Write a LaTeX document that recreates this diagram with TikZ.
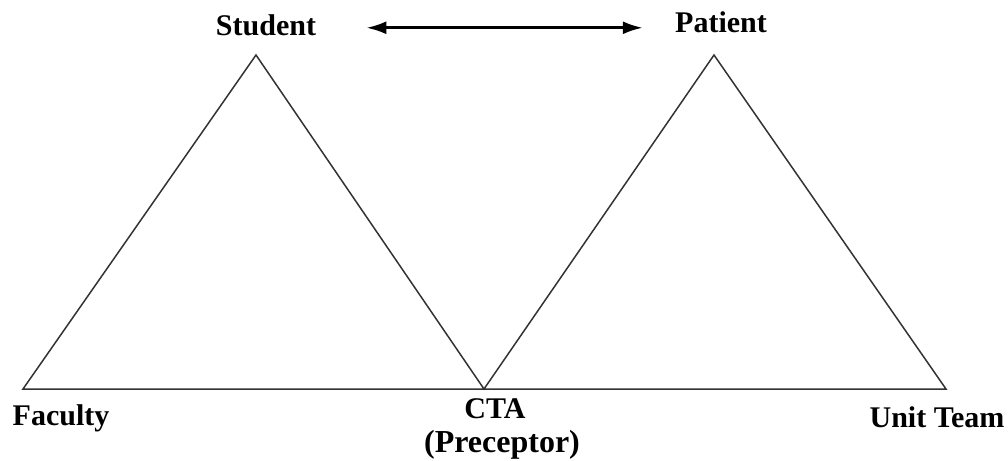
\documentclass[tikz,border=0pt]{standalone}
\usepackage{fontspec}
\setmainfont{Liberation Serif}
\usetikzlibrary{arrows.meta}
\tikzset{
  vertexlabel/.style={inner sep=0pt, anchor=base, font=\fontsize{15}{18}\selectfont\bfseries},
  side/.style={draw=black!80, line width=0.75pt, line join=miter},
  link/.style={line width=1.3pt, {Latex[length=10pt,width=6.5pt]}-{Latex[length=10pt,width=6.5pt]}}
}
\begin{document}
\begin{tikzpicture}[x=0.5pt, y=-0.5pt]
  \useasboundingbox (0,0) rectangle (1008,461);
  \coordinate (s) at (256,55);
  \coordinate (p) at (714,55);
  \coordinate (f) at (23,389);
  \coordinate (c) at (484,389);
  \coordinate (u) at (946,389);
  \draw[side] (f) -- (s) -- (c) -- (p) -- (u) -- cycle;

  \node[vertexlabel] (student) at (266,35) {Student};
  \node[vertexlabel] (patient) at (721,32) {Patient};
  \node[vertexlabel] (faculty) at (61,425) {Faculty};
  \node[vertexlabel] (cta) at (495,418) {CTA};
  \node[vertexlabel, font=\fontsize{16}{19}\selectfont\bfseries] (preceptor) at (502,452) {(Preceptor)};
  \node[vertexlabel] (unitteam) at (937,427) {Unit Team};

  \draw[link, shorten <=25pt, shorten >=16pt] ([yshift=-1.5pt]student.east) -- ([yshift=-1.5pt]student.east -| patient.west);
\end{tikzpicture}
\end{document}
